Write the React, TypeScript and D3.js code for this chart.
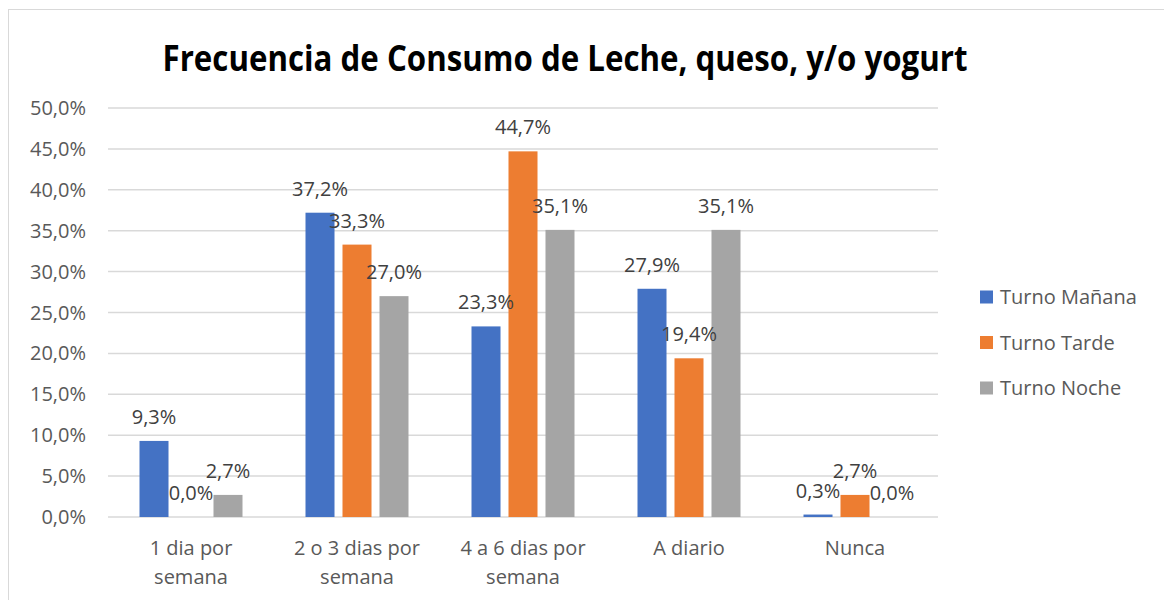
import React from "react";
import * as d3 from "d3";

const categories: string[][] = [
  ["1 dia por", "semana"],
  ["2 o 3 dias por", "semana"],
  ["4 a 6 dias por", "semana"],
  ["A diario"],
  ["Nunca"],
];
const seriesNames = ["Turno Mañana", "Turno Tarde", "Turno Noche"];
const manana = [9.3, 37.2, 23.3, 27.9, 0.3];
const tarde = [0.0, 33.3, 44.7, 19.4, 2.7];
const noche = [2.7, 27.0, 35.1, 35.1, 0.0];
const colors = ["#4472C4", "#ED7D31", "#A5A5A5"];
const yTicks = [0, 5, 10, 15, 20, 25, 30, 35, 40, 45, 50];

const fmt = (v: number) => v.toFixed(1).replace(".", ",") + "%";

export default function App() {
  const W = 1164, H = 600;
  const catKeys = categories.map((c) => c.join(" "));
  const series = [manana, tarde, noche];
  const x0 = d3.scaleBand<string>().domain(catKeys).range([108, 938]).paddingInner(0).paddingOuter(0);
  const groupW = 103;
  const x1 = d3
    .scaleBand<number>()
    .domain([0, 1, 2])
    .range([(x0.bandwidth() - groupW) / 2, (x0.bandwidth() + groupW) / 2])
    .paddingInner(0.216)
    .paddingOuter(0);
  const y = d3.scaleLinear().domain([0, 50]).range([517, 108]);
  const font = "'Open Sans', 'Noto Sans', sans-serif";
  const fs = 20;

  return (
    <svg width={W} height={H} style={{ position: "absolute", left: 0, top: 0, background: "#fff" }}>
      <rect x={8.5} y={9.5} width={1170} height={620} fill="#fff" stroke="#d9d9d9" strokeWidth={1} />
      <text
        x={565}
        y={71}
        textAnchor="middle"
        fontFamily={font}
        fontWeight="bold"
        fontSize={35}
        fill="#000"
        textLength={805}
        lengthAdjust="spacingAndGlyphs"
      >
        Frecuencia de Consumo de Leche, queso, y/o yogurt
      </text>
      {yTicks.map((t) => (
        <g key={t}>
          <line x1={108} x2={938} y1={y(t)} y2={y(t)} stroke="#d9d9d9" strokeWidth={1.5} />
          <text x={86} y={y(t) + 7} textAnchor="end" fontFamily={font} fontSize={fs} fill="#595959">
            {t.toFixed(1).replace(".", ",") + "%"}
          </text>
        </g>
      ))}
      {catKeys.map((k, ci) => (
        <g key={k} transform={`translate(${x0(k)},0)`}>
          {series.map((s, si) => (
            <rect
              key={si}
              x={x1(si)}
              y={y(s[ci])}
              width={x1.bandwidth()}
              height={y(0) - y(s[ci])}
              fill={colors[si]}
            />
          ))}
          {series.map((s, si) => (
            <text
              key={"l" + si}
              x={(x1(si) as number) + x1.bandwidth() / 2}
              y={y(s[ci]) - 17}
              textAnchor="middle"
              fontFamily={font}
              fontSize={fs}
              fill="#404040"
            >
              {fmt(s[ci])}
            </text>
          ))}
          {categories[ci].map((line, li) => (
            <text
              key={"c" + li}
              x={x0.bandwidth() / 2}
              y={555 + li * 29}
              textAnchor="middle"
              fontFamily={font}
              fontSize={fs}
              fill="#595959"
            >
              {line}
            </text>
          ))}
        </g>
      ))}
      {seriesNames.map((n, i) => (
        <g key={n} transform={`translate(980,${297 + i * 45.5})`}>
          <rect x={0} y={-6.5} width={13} height={13} fill={colors[i]} />
          <text x={20} y={7} fontFamily={font} fontSize={fs} fill="#595959">
            {n}
          </text>
        </g>
      ))}
    </svg>
  );
}
